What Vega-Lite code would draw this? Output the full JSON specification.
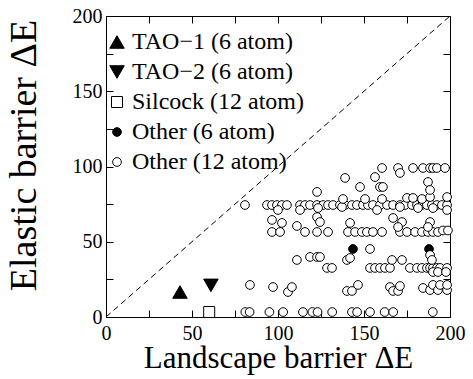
{
  "$schema": "https://vega.github.io/schema/vega-lite/v6.json",
  "width": 344,
  "height": 301,
  "autosize": {"type": "none"},
  "padding": {"left": 106, "top": 16, "right": 23, "bottom": 62},
  "background": "white",
  "config": {
    "font": "Liberation Serif",
    "view": {"stroke": "black", "strokeWidth": 1},
    "axis": {
      "grid": false,
      "ticks": true,
      "tickSize": 7,
      "offset": -7,
      "domain": false,
      "tickColor": "black",
      "labelColor": "black",
      "titleColor": "black",
      "titleFontWeight": "normal",
      "labelFont": "Liberation Serif",
      "titleFont": "Liberation Serif",
      "labelFontSize": 20,
      "labelOverlap": false,
      "labelFlush": false
    }
  },
  "layer": [
    {
      "data": {"values": [{"x": 0, "y": 0}, {"x": 200, "y": 200}]},
      "mark": {"type": "line", "color": "black", "strokeDash": [6, 4], "strokeWidth": 1},
      "encoding": {
        "x": {"field": "x", "type": "quantitative", "scale": {"domain": [0, 200], "nice": false},
          "axis": {"orient": "bottom", "title": "Landscape barrier ΔE", "titleFontSize": 31,
            "values": [0, 25, 50, 75, 100, 125, 150, 175, 200],
            "labelExpr": "datum.value % 50 === 0 ? datum.label : ''",
            "encode": {"ticks": {"update": {"y": {"signal": "datum.value % 50 === 0 ? 0 : 3"}}}},
            "labelPadding": 6, "titlePadding": 0, "labelOverlap": false}},
        "y": {"field": "y", "type": "quantitative", "scale": {"domain": [0, 200], "nice": false},
          "axis": {"orient": "left", "title": "Elastic barrier ΔE", "titleFontSize": 38, "titleY": 139,
            "values": [0, 25, 50, 75, 100, 125, 150, 175, 200],
            "labelExpr": "datum.value % 50 === 0 ? datum.label : ''",
            "encode": {"ticks": {"update": {"x": {"signal": "datum.value % 50 === 0 ? 0 : -3"}}}},
            "labelPadding": 4, "titlePadding": 29, "labelOverlap": false}}
      }
    },
    {
      "data": {"values": [
        {"x": 43, "y": 16.6, "t": "TAO−1 (6 atom)"},
        {"x": 61, "y": 21, "t": "TAO−2 (6 atom)"},
        {"x": 60, "y": 3.3, "t": "Silcock (12 atom)"},
        {"x": 143.6, "y": 45.2, "t": "Other (6 atom)"},
        {"x": 187.8, "y": 45.2, "t": "Other (6 atom)"},
        {"x": 81, "y": 3.3, "t": "Other (12 atom)"},
        {"x": 83.5, "y": 3.3, "t": "Other (12 atom)"},
        {"x": 95, "y": 3.3, "t": "Other (12 atom)"},
        {"x": 103, "y": 3.3, "t": "Other (12 atom)"},
        {"x": 114.5, "y": 3.3, "t": "Other (12 atom)"},
        {"x": 120, "y": 3.3, "t": "Other (12 atom)"},
        {"x": 123, "y": 3.3, "t": "Other (12 atom)"},
        {"x": 131.5, "y": 3.3, "t": "Other (12 atom)"},
        {"x": 143, "y": 3.3, "t": "Other (12 atom)"},
        {"x": 146, "y": 3.3, "t": "Other (12 atom)"},
        {"x": 153.5, "y": 3.3, "t": "Other (12 atom)"},
        {"x": 162, "y": 3.3, "t": "Other (12 atom)"},
        {"x": 167, "y": 3.3, "t": "Other (12 atom)"},
        {"x": 190, "y": 3.3, "t": "Other (12 atom)"},
        {"x": 83.7, "y": 21.3, "t": "Other (12 atom)"},
        {"x": 97.1, "y": 19.9, "t": "Other (12 atom)"},
        {"x": 105.8, "y": 16.6, "t": "Other (12 atom)"},
        {"x": 108.1, "y": 19.9, "t": "Other (12 atom)"},
        {"x": 140.1, "y": 17.3, "t": "Other (12 atom)"},
        {"x": 143, "y": 17.3, "t": "Other (12 atom)"},
        {"x": 146.5, "y": 21.3, "t": "Other (12 atom)"},
        {"x": 165.1, "y": 19.9, "t": "Other (12 atom)"},
        {"x": 166.9, "y": 17.3, "t": "Other (12 atom)"},
        {"x": 169.8, "y": 17.3, "t": "Other (12 atom)"},
        {"x": 170.9, "y": 20.6, "t": "Other (12 atom)"},
        {"x": 184.3, "y": 19.3, "t": "Other (12 atom)"},
        {"x": 188.4, "y": 17.9, "t": "Other (12 atom)"},
        {"x": 190.1, "y": 21.3, "t": "Other (12 atom)"},
        {"x": 193, "y": 17.9, "t": "Other (12 atom)"},
        {"x": 194.2, "y": 21.3, "t": "Other (12 atom)"},
        {"x": 198.3, "y": 17.9, "t": "Other (12 atom)"},
        {"x": 198.3, "y": 21.3, "t": "Other (12 atom)"},
        {"x": 111, "y": 37.9, "t": "Other (12 atom)"},
        {"x": 118.6, "y": 39.9, "t": "Other (12 atom)"},
        {"x": 122.7, "y": 39.9, "t": "Other (12 atom)"},
        {"x": 124.4, "y": 39.9, "t": "Other (12 atom)"},
        {"x": 128.5, "y": 32.6, "t": "Other (12 atom)"},
        {"x": 131.4, "y": 32.6, "t": "Other (12 atom)"},
        {"x": 140.1, "y": 37.9, "t": "Other (12 atom)"},
        {"x": 141.9, "y": 39.2, "t": "Other (12 atom)"},
        {"x": 153.5, "y": 32.6, "t": "Other (12 atom)"},
        {"x": 156.4, "y": 32.6, "t": "Other (12 atom)"},
        {"x": 159.3, "y": 32.6, "t": "Other (12 atom)"},
        {"x": 162.2, "y": 32.6, "t": "Other (12 atom)"},
        {"x": 165.1, "y": 32.6, "t": "Other (12 atom)"},
        {"x": 166.3, "y": 37.9, "t": "Other (12 atom)"},
        {"x": 172.1, "y": 37.9, "t": "Other (12 atom)"},
        {"x": 176.7, "y": 32.6, "t": "Other (12 atom)"},
        {"x": 180.8, "y": 32.6, "t": "Other (12 atom)"},
        {"x": 183.7, "y": 32.6, "t": "Other (12 atom)"},
        {"x": 186.6, "y": 32.6, "t": "Other (12 atom)"},
        {"x": 188.4, "y": 32.6, "t": "Other (12 atom)"},
        {"x": 190.1, "y": 32.6, "t": "Other (12 atom)"},
        {"x": 192.4, "y": 32.6, "t": "Other (12 atom)"},
        {"x": 194.2, "y": 32.6, "t": "Other (12 atom)"},
        {"x": 198.3, "y": 32.6, "t": "Other (12 atom)"},
        {"x": 188.4, "y": 41.2, "t": "Other (12 atom)"},
        {"x": 189.5, "y": 37.9, "t": "Other (12 atom)"},
        {"x": 190.1, "y": 29.9, "t": "Other (12 atom)"},
        {"x": 193, "y": 29.9, "t": "Other (12 atom)"},
        {"x": 197.7, "y": 29.9, "t": "Other (12 atom)"},
        {"x": 153.5, "y": 45.2, "t": "Other (12 atom)"},
        {"x": 96.5, "y": 56.5, "t": "Other (12 atom)"},
        {"x": 101.2, "y": 56.5, "t": "Other (12 atom)"},
        {"x": 115.7, "y": 56.5, "t": "Other (12 atom)"},
        {"x": 122.7, "y": 56.5, "t": "Other (12 atom)"},
        {"x": 129.1, "y": 56.5, "t": "Other (12 atom)"},
        {"x": 140.7, "y": 56.5, "t": "Other (12 atom)"},
        {"x": 144.8, "y": 56.5, "t": "Other (12 atom)"},
        {"x": 148.8, "y": 56.5, "t": "Other (12 atom)"},
        {"x": 151.7, "y": 56.5, "t": "Other (12 atom)"},
        {"x": 155.2, "y": 56.5, "t": "Other (12 atom)"},
        {"x": 160.5, "y": 56.5, "t": "Other (12 atom)"},
        {"x": 170.9, "y": 56.5, "t": "Other (12 atom)"},
        {"x": 175, "y": 56.5, "t": "Other (12 atom)"},
        {"x": 179.7, "y": 56.5, "t": "Other (12 atom)"},
        {"x": 183.7, "y": 56.5, "t": "Other (12 atom)"},
        {"x": 187.2, "y": 56.5, "t": "Other (12 atom)"},
        {"x": 190.1, "y": 56.5, "t": "Other (12 atom)"},
        {"x": 193, "y": 56.5, "t": "Other (12 atom)"},
        {"x": 195.9, "y": 57.5, "t": "Other (12 atom)"},
        {"x": 198.8, "y": 57.5, "t": "Other (12 atom)"},
        {"x": 96.5, "y": 64.5, "t": "Other (12 atom)"},
        {"x": 102.3, "y": 62.5, "t": "Other (12 atom)"},
        {"x": 111, "y": 60.5, "t": "Other (12 atom)"},
        {"x": 122.7, "y": 66.4, "t": "Other (12 atom)"},
        {"x": 124.4, "y": 63.1, "t": "Other (12 atom)"},
        {"x": 141.9, "y": 62.5, "t": "Other (12 atom)"},
        {"x": 166.9, "y": 65.8, "t": "Other (12 atom)"},
        {"x": 172.1, "y": 63.1, "t": "Other (12 atom)"},
        {"x": 169.8, "y": 59.8, "t": "Other (12 atom)"},
        {"x": 188.4, "y": 63.1, "t": "Other (12 atom)"},
        {"x": 187.2, "y": 59.8, "t": "Other (12 atom)"},
        {"x": 80.8, "y": 74.4, "t": "Other (12 atom)"},
        {"x": 93.6, "y": 74.4, "t": "Other (12 atom)"},
        {"x": 96.5, "y": 74.4, "t": "Other (12 atom)"},
        {"x": 99.4, "y": 74.4, "t": "Other (12 atom)"},
        {"x": 102.3, "y": 74.4, "t": "Other (12 atom)"},
        {"x": 105.2, "y": 74.4, "t": "Other (12 atom)"},
        {"x": 112.8, "y": 74.4, "t": "Other (12 atom)"},
        {"x": 115.7, "y": 74.4, "t": "Other (12 atom)"},
        {"x": 118.6, "y": 74.4, "t": "Other (12 atom)"},
        {"x": 122.7, "y": 74.4, "t": "Other (12 atom)"},
        {"x": 126.2, "y": 74.4, "t": "Other (12 atom)"},
        {"x": 129.1, "y": 74.4, "t": "Other (12 atom)"},
        {"x": 132, "y": 74.4, "t": "Other (12 atom)"},
        {"x": 136, "y": 74.4, "t": "Other (12 atom)"},
        {"x": 139, "y": 74.4, "t": "Other (12 atom)"},
        {"x": 143, "y": 74.4, "t": "Other (12 atom)"},
        {"x": 145.9, "y": 74.4, "t": "Other (12 atom)"},
        {"x": 149.4, "y": 74.4, "t": "Other (12 atom)"},
        {"x": 152.3, "y": 74.4, "t": "Other (12 atom)"},
        {"x": 155.2, "y": 74.4, "t": "Other (12 atom)"},
        {"x": 159.3, "y": 74.4, "t": "Other (12 atom)"},
        {"x": 163.4, "y": 74.4, "t": "Other (12 atom)"},
        {"x": 166.9, "y": 74.4, "t": "Other (12 atom)"},
        {"x": 170.9, "y": 74.4, "t": "Other (12 atom)"},
        {"x": 173.8, "y": 74.4, "t": "Other (12 atom)"},
        {"x": 177.9, "y": 74.4, "t": "Other (12 atom)"},
        {"x": 180.8, "y": 74.4, "t": "Other (12 atom)"},
        {"x": 183.7, "y": 74.4, "t": "Other (12 atom)"},
        {"x": 186.6, "y": 74.4, "t": "Other (12 atom)"},
        {"x": 189.5, "y": 74.4, "t": "Other (12 atom)"},
        {"x": 192.4, "y": 74.4, "t": "Other (12 atom)"},
        {"x": 195.3, "y": 74.4, "t": "Other (12 atom)"},
        {"x": 198.3, "y": 74.4, "t": "Other (12 atom)"},
        {"x": 100, "y": 71.1, "t": "Other (12 atom)"},
        {"x": 112.8, "y": 71.1, "t": "Other (12 atom)"},
        {"x": 123.3, "y": 72.4, "t": "Other (12 atom)"},
        {"x": 137.2, "y": 73.1, "t": "Other (12 atom)"},
        {"x": 157.6, "y": 71.1, "t": "Other (12 atom)"},
        {"x": 170.9, "y": 73.1, "t": "Other (12 atom)"},
        {"x": 181.4, "y": 72.4, "t": "Other (12 atom)"},
        {"x": 190.1, "y": 72.4, "t": "Other (12 atom)"},
        {"x": 198.3, "y": 71.1, "t": "Other (12 atom)"},
        {"x": 137.8, "y": 78.4, "t": "Other (12 atom)"},
        {"x": 150.6, "y": 78.4, "t": "Other (12 atom)"},
        {"x": 160.5, "y": 78.4, "t": "Other (12 atom)"},
        {"x": 175, "y": 79.1, "t": "Other (12 atom)"},
        {"x": 178.5, "y": 79.1, "t": "Other (12 atom)"},
        {"x": 183.7, "y": 78.4, "t": "Other (12 atom)"},
        {"x": 188.4, "y": 79.7, "t": "Other (12 atom)"},
        {"x": 198.3, "y": 79.7, "t": "Other (12 atom)"},
        {"x": 122.7, "y": 83.1, "t": "Other (12 atom)"},
        {"x": 139, "y": 92.4, "t": "Other (12 atom)"},
        {"x": 147.7, "y": 86.4, "t": "Other (12 atom)"},
        {"x": 156.4, "y": 93, "t": "Other (12 atom)"},
        {"x": 159.3, "y": 86.4, "t": "Other (12 atom)"},
        {"x": 161, "y": 86.4, "t": "Other (12 atom)"},
        {"x": 160.5, "y": 99, "t": "Other (12 atom)"},
        {"x": 169.8, "y": 99, "t": "Other (12 atom)"},
        {"x": 170.9, "y": 95.7, "t": "Other (12 atom)"},
        {"x": 178.5, "y": 99, "t": "Other (12 atom)"},
        {"x": 184.3, "y": 99, "t": "Other (12 atom)"},
        {"x": 188.4, "y": 99, "t": "Other (12 atom)"},
        {"x": 190.1, "y": 99, "t": "Other (12 atom)"},
        {"x": 192.4, "y": 99, "t": "Other (12 atom)"},
        {"x": 197.1, "y": 99, "t": "Other (12 atom)"},
        {"x": 187.2, "y": 89.7, "t": "Other (12 atom)"},
        {"x": 188.4, "y": 84.4, "t": "Other (12 atom)"}
      ]},
      "mark": {"type": "point", "filled": true, "stroke": "black", "strokeWidth": 1, "opacity": 1},
      "encoding": {
        "x": {"field": "x", "type": "quantitative",
          "axis": {"orient": "top", "title": null, "labels": false,
            "values": [0, 25, 50, 75, 100, 125, 150, 175, 200],
            "encode": {"ticks": {"update": {"y": {"signal": "datum.value % 50 === 0 ? 0 : -3"}}}}}},
        "y": {"field": "y", "type": "quantitative",
          "axis": {"orient": "right", "title": null, "labels": false,
            "values": [0, 25, 50, 75, 100, 125, 150, 175, 200],
            "encode": {"ticks": {"update": {"x": {"signal": "datum.value % 50 === 0 ? 0 : 3"}}}}}},
        "shape": {"field": "t", "type": "nominal",
          "scale": {"domain": ["TAO−1 (6 atom)", "TAO−2 (6 atom)", "Silcock (12 atom)", "Other (6 atom)", "Other (12 atom)"],
            "range": ["triangle-up", "triangle-down", "square", "circle", "circle"]},
          "legend": {
            "orient": "none", "legendX": -1, "legendY": 14, "title": null,
            "labelFont": "Liberation Serif", "labelFontSize": 24, "labelColor": "black", "labelOffset": 3, "labelLimit": 400,
            "symbolStrokeColor": "black", "symbolStrokeWidth": 1, "symbolSize": 140,
            "rowPadding": 6, "padding": 0,
            "encode": {
              "symbols": {"update": {"size": {"signal": "indexof(['Other (6 atom)','Other (12 atom)'], datum.value) >= 0 ? 38 : (datum.value === 'Silcock (12 atom)' ? 110 : 144)"}}}
            }
          }},
        "fill": {"field": "t", "type": "nominal",
          "scale": {"domain": ["TAO−1 (6 atom)", "TAO−2 (6 atom)", "Silcock (12 atom)", "Other (6 atom)", "Other (12 atom)"],
            "range": ["black", "black", "white", "black", "white"]}},
        "size": {"field": "t", "type": "nominal",
          "scale": {"type": "ordinal", "domain": ["TAO−1 (6 atom)", "TAO−2 (6 atom)", "Silcock (12 atom)", "Other (6 atom)", "Other (12 atom)"],
            "range": [210, 210, 121, 76, 76]}}
      }
    }
  ],
  "resolve": {"axis": {"x": "independent", "y": "independent"}}
}
